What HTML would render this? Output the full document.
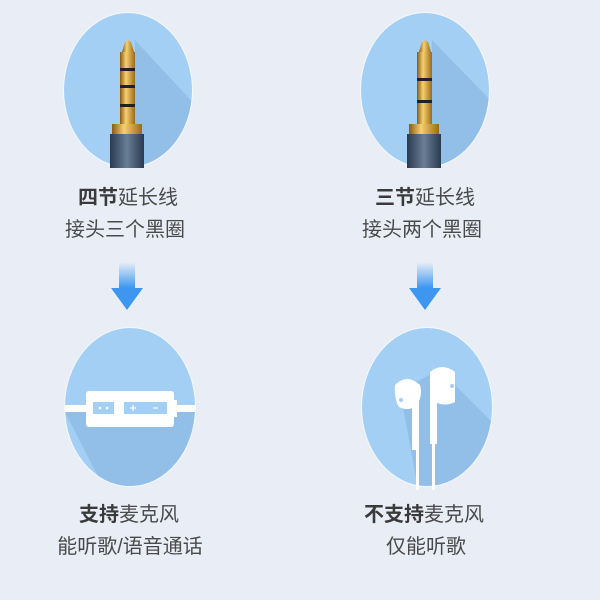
<!DOCTYPE html>
<html><head><meta charset="utf-8"><style>
body{margin:0;width:600px;height:600px;background:#e9eef6;overflow:hidden;font-family:"Liberation Sans","Noto Sans CJK SC",sans-serif;}
.t{position:absolute;font-size:20px;color:#4a4a4a;white-space:nowrap;text-align:center;width:240px}
b{color:#3a3a3a}
</style></head><body>
<svg width="600" height="600" style="position:absolute;left:0;top:0">
<defs>
<linearGradient id="ar" x1="0" y1="0" x2="0" y2="1"><stop offset="0" stop-color="#e9eef6"/><stop offset="1" stop-color="#3d97f0"/></linearGradient>
<linearGradient id="gold" x1="0" x2="1"><stop offset="0" stop-color="#8a5a10"/><stop offset=".4" stop-color="#f5d070"/><stop offset="1" stop-color="#9a6a18"/></linearGradient>
<linearGradient id="body" x1="0" x2="1"><stop offset="0" stop-color="#2a3a50"/><stop offset=".5" stop-color="#6a7e96"/><stop offset="1" stop-color="#2a3a50"/></linearGradient>
<clipPath id="c1"><ellipse cx="128" cy="90" rx="64" ry="77"/></clipPath>
<clipPath id="c2"><ellipse cx="425" cy="90" rx="64" ry="77"/></clipPath>
<clipPath id="c3"><ellipse cx="130" cy="407" rx="65" ry="79"/></clipPath>
<clipPath id="c4"><ellipse cx="427" cy="407" rx="65" ry="79"/></clipPath>
</defs>
<ellipse cx="128" cy="90" rx="65" ry="78" fill="#f4f8fc"/>
<ellipse cx="128" cy="90" rx="64" ry="77" fill="#a3cff5"/>
<polygon points="135,40 200,110 200,180 135,180" fill="#92bfe8" clip-path="url(#c1)"/>
<ellipse cx="425" cy="90" rx="65" ry="78" fill="#f4f8fc"/>
<ellipse cx="425" cy="90" rx="64" ry="77" fill="#a3cff5"/>
<polygon points="432,40 500,110 500,180 432,180" fill="#92bfe8" clip-path="url(#c2)"/>
<!-- plug 1 -->
<g>
<path d="M122,52 L125,42 L128,40 L131,42 L134,52 Z" fill="url(#gold)"/>
<rect x="120" y="52" width="15" height="72" fill="url(#gold)"/>
<rect x="120" y="68" width="15" height="3" fill="#222"/>
<rect x="120" y="85" width="15" height="3" fill="#222"/>
<rect x="120" y="104" width="15" height="3" fill="#222"/>
<rect x="112" y="124" width="30" height="10" fill="url(#gold)"/>
<rect x="110" y="134" width="34" height="34" fill="url(#body)"/>
</g>
<g>
<path d="M419,52 L422,42 L425,40 L428,42 L431,52 Z" fill="url(#gold)"/>
<rect x="417" y="52" width="15" height="72" fill="url(#gold)"/>
<rect x="417" y="78" width="15" height="3" fill="#222"/>
<rect x="417" y="100" width="15" height="3" fill="#222"/>
<rect x="409" y="124" width="30" height="10" fill="url(#gold)"/>
<rect x="407" y="134" width="34" height="34" fill="url(#body)"/>
</g>
<!-- arrows -->
<rect x="119" y="262" width="16" height="26" fill="url(#ar)"/>
<polygon points="111,288 143,288 127,310" fill="#3d97f0"/>
<rect x="417" y="262" width="16" height="26" fill="url(#ar)"/>
<polygon points="409,288 441,288 425,310" fill="#3d97f0"/>
<!-- bottom left -->
<ellipse cx="130" cy="407" rx="66" ry="80" fill="#f4f8fc"/>
<ellipse cx="130" cy="407" rx="65" ry="79" fill="#a3cff5"/>
<polygon points="65,412 195,412 195,500 110,500" fill="#92bfe8" clip-path="url(#c3)"/>
<rect x="60" y="405" width="140" height="7" fill="#fff" clip-path="url(#c3)"/>
<rect x="87" y="400" width="90" height="17" fill="#fff"/>
<rect x="86" y="391" width="88" height="36" rx="3" fill="#fff"/>
<rect x="93" y="402" width="21" height="12" fill="#a3cff5"/>
<rect x="124" y="402" width="43" height="12" fill="#a3cff5"/>
<circle cx="100" cy="408" r="1.3" fill="#fff"/><circle cx="107" cy="408" r="1.3" fill="#fff"/>
<path d="M130,408h6M133,405v6M153,408h5" stroke="#fff" stroke-width="1.3"/>
<!-- bottom right -->
<ellipse cx="427" cy="407" rx="66" ry="80" fill="#f4f8fc"/>
<ellipse cx="427" cy="407" rx="65" ry="79" fill="#a3cff5"/>
<polygon points="400,390 440,370 500,430 500,500 420,500" fill="#92bfe8" clip-path="url(#c4)"/>
<g fill="#fff">
<path d="M395,385 q12,-12 25,0 q3,10 -3,20 q-8,7 -18,2 q-5,-8 -4,-22z"/>
<rect x="412" y="395" width="7" height="55"/>
<rect x="416" y="450" width="3" height="40"/>
<path d="M430,372 q12,-10 25,0 l0,30 q-10,5 -20,0 q-5,-15 -5,-30z"/>
<rect x="430" y="372" width="7" height="72"/>
<rect x="432" y="444" width="3" height="46"/>
</g>
<circle cx="401" cy="400" r="2" fill="#a3cff5"/><circle cx="452" cy="386" r="2" fill="#a3cff5"/>
</svg>
<div class="t" style="left:8px;top:181px"><b>四节</b>延长线</div>
<div class="t" style="left:5px;top:213px">接头三个黑圈</div>
<div class="t" style="left:305px;top:181px"><b>三节</b>延长线</div>
<div class="t" style="left:302px;top:213px">接头两个黑圈</div>
<div class="t" style="left:9px;top:498px"><b>支持</b>麦克风</div>
<div class="t" style="left:10px;top:530px">能听歌/语音通话</div>
<div class="t" style="left:304px;top:498px"><b>不支持</b>麦克风</div>
<div class="t" style="left:306px;top:530px">仅能听歌</div>
</body></html>
